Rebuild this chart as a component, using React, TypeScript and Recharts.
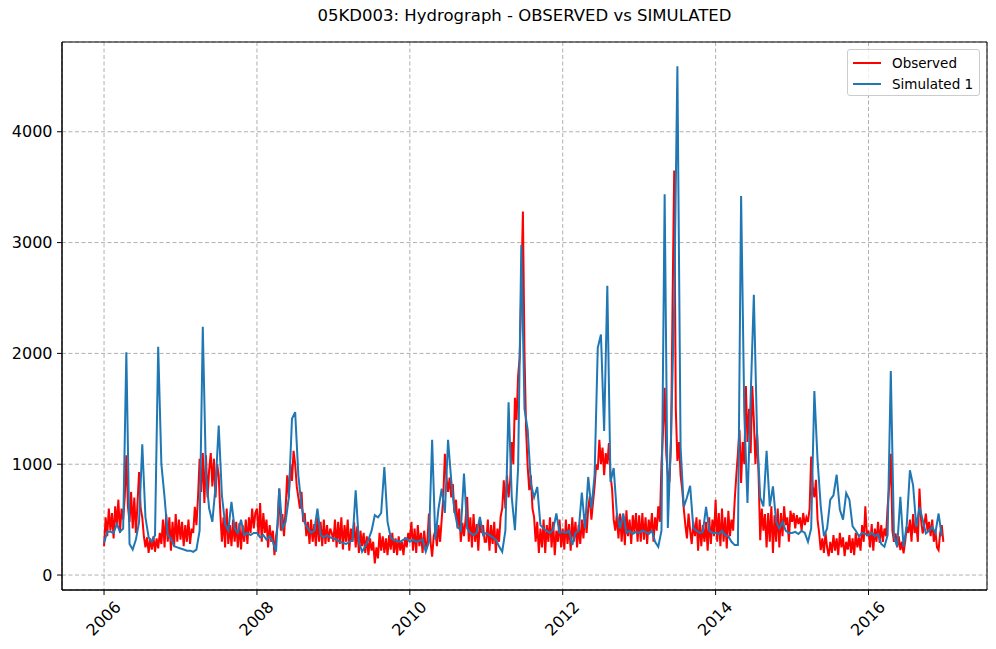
import { LineChart, Line, XAxis, YAxis, CartesianGrid, ReferenceArea } from 'recharts'

const YEARS = [2006, 2007, 2008, 2009, 2010, 2011, 2012, 2013, 2014, 2015, 2016]

// observed flows (m3/s), roughly weekly, 48 per year
const obs2006 = [260, 520, 350, 600, 400, 560, 330, 620, 450, 680, 380, 600, 500, 700, 1080, 620, 480, 750, 420, 700, 380, 640, 930, 600, 520, 350, 250, 340, 200, 330, 230, 350, 210, 330, 240, 380, 280, 500, 250, 550, 300, 520, 220, 480, 260, 550, 300, 500]
const obs2007 = [320, 480, 260, 450, 300, 500, 280, 420, 380, 615, 450, 700, 1050, 750, 1100, 650, 1080, 700, 950, 1100, 800, 1050, 700, 1000, 900, 560, 300, 520, 250, 600, 280, 450, 260, 500, 300, 480, 250, 470, 230, 450, 300, 500, 280, 520, 380, 600, 420, 560]
const obs2008 = [600, 350, 650, 300, 560, 380, 500, 250, 450, 300, 400, 180, 350, 450, 780, 400, 550, 350, 600, 900, 700, 1000, 850, 1120, 1000, 800, 700, 600, 750, 480, 560, 350, 480, 280, 500, 300, 460, 260, 520, 300, 480, 260, 500, 280, 450, 300, 420, 380]
const obs2009 = [300, 500, 250, 480, 280, 520, 230, 450, 300, 500, 220, 420, 300, 480, 250, 440, 200, 400, 260, 380, 200, 350, 180, 330, 220, 300, 105, 250, 150, 380, 220, 350, 200, 330, 180, 360, 230, 380, 200, 330, 180, 350, 220, 300, 180, 340, 250, 380]
const obs2010 = [320, 480, 220, 420, 200, 450, 260, 380, 200, 400, 250, 300, 555, 300, 165, 350, 400, 260, 450, 300, 500, 700, 1095, 880, 750, 880, 700, 820, 560, 680, 420, 600, 300, 470, 350, 500, 705, 300, 520, 250, 550, 300, 460, 220, 500, 380, 450, 300]
const obs2011 = [300, 500, 220, 450, 280, 480, 200, 420, 300, 525, 600, 855, 600, 900, 700, 850, 1200, 1000, 1600, 1400, 1800, 1965, 2600, 3280, 2000, 1310, 975, 765, 900, 600, 525, 300, 480, 200, 420, 250, 500, 200, 450, 300, 520, 250, 480, 180, 400, 300, 500, 250]
const obs2012 = [420, 230, 500, 280, 460, 220, 520, 300, 480, 250, 450, 280, 500, 330, 550, 380, 600, 710, 500, 650, 800, 1000, 950, 1220, 1000, 1150, 900, 1100, 1000, 1190, 900, 775, 500, 400, 550, 330, 555, 300, 540, 270, 585, 350, 500, 280, 540, 380, 560, 300]
const obs2013 = [540, 300, 560, 320, 520, 280, 500, 380, 560, 300, 520, 400, 620, 480, 1000, 1300, 1690, 1100, 900, 840, 1200, 2500, 3650, 1500, 1030, 1200, 900, 775, 600, 450, 330, 555, 400, 280, 480, 350, 520, 220, 500, 260, 450, 300, 480, 220, 520, 280, 500, 350]
const obs2014 = [680, 300, 560, 260, 600, 300, 520, 240, 580, 350, 500, 400, 680, 900, 1100, 1310, 830, 1200, 1000, 1705, 1200, 1500, 1100, 1705, 1400, 1000, 1285, 890, 315, 600, 400, 550, 250, 560, 300, 620, 200, 540, 300, 600, 250, 560, 350, 620, 450, 520, 300, 580]
const obs2015 = [480, 560, 420, 540, 460, 520, 400, 560, 450, 520, 480, 600, 1070, 800, 700, 860, 500, 380, 225, 330, 200, 380, 250, 170, 300, 200, 360, 220, 330, 180, 380, 250, 340, 170, 300, 230, 360, 200, 330, 180, 380, 250, 340, 220, 450, 300, 620, 350]
const obs2016 = [400, 250, 460, 220, 420, 300, 480, 290, 450, 300, 420, 350, 615, 800, 1095, 400, 300, 375, 250, 350, 225, 300, 195, 300, 435, 380, 500, 300, 550, 380, 450, 300, 780, 500, 375, 450, 555, 400, 480, 350, 500, 300, 400, 250, 225, 380, 450, 300]

// simulated flows (m3/s), half-monthly, 24 per year
const sim2006 = [290, 390, 390, 380, 460, 390, 420, 2010, 280, 230, 320, 480, 1180, 520, 340, 300, 360, 2060, 1000, 700, 360, 330, 260, 250]
const sim2007 = [240, 230, 220, 220, 210, 230, 400, 2240, 900, 600, 480, 800, 1350, 720, 460, 400, 660, 420, 380, 500, 360, 380, 360, 380]
const sim2008 = [380, 340, 360, 320, 350, 300, 210, 780, 420, 480, 700, 1410, 1470, 900, 620, 470, 420, 380, 400, 600, 360, 340, 360, 340]
const sim2009 = [330, 320, 300, 290, 280, 300, 310, 765, 300, 210, 260, 320, 400, 540, 520, 560, 975, 480, 340, 315, 310, 300, 320, 330]
const sim2010 = [300, 320, 300, 310, 320, 210, 300, 1220, 320, 600, 780, 560, 1220, 855, 585, 435, 400, 915, 420, 380, 360, 380, 525, 360]
const sim2011 = [380, 360, 340, 320, 260, 210, 400, 1560, 700, 405, 975, 2980, 1500, 1310, 825, 700, 795, 450, 420, 400, 380, 410, 555, 380]
const sim2012 = [390, 380, 400, 270, 380, 400, 745, 420, 885, 600, 900, 2050, 2170, 1300, 2610, 840, 965, 555, 420, 555, 380, 400, 370, 390]
const sim2013 = [380, 400, 390, 370, 400, 300, 255, 400, 3435, 425, 1250, 2450, 4590, 1155, 615, 700, 805, 425, 400, 380, 390, 615, 400, 380]
const sim2014 = [380, 370, 400, 360, 350, 300, 270, 270, 3420, 1465, 650, 1600, 2530, 1285, 700, 620, 1120, 620, 800, 480, 420, 480, 400, 380]
const sim2015 = [380, 390, 370, 400, 380, 300, 420, 1660, 1040, 620, 350, 420, 680, 720, 905, 590, 500, 740, 680, 440, 400, 350, 380, 370]
const sim2016 = [360, 380, 350, 370, 280, 255, 360, 1840, 345, 255, 705, 255, 450, 945, 810, 435, 615, 500, 375, 400, 435, 380, 555, 350]

const OBSERVED = [obs2006, obs2007, obs2008, obs2009, obs2010, obs2011, obs2012, obs2013, obs2014, obs2015, obs2016]
const SIMULATED = [sim2006, sim2007, sim2008, sim2009, sim2010, sim2011, sim2012, sim2013, sim2014, sim2015, sim2016]

const X_TICKS = [2006, 2008, 2010, 2012, 2014, 2016]
const Y_TICKS = [0, 1000, 2000, 3000, 4000]

const obsRows = YEARS.flatMap((year, k) => OBSERVED[k].map((v, i) => ({ t: year + i / 48, obs: v })))
const simRows = YEARS.flatMap((year, k) => SIMULATED[k].map((v, i) => ({ t: year + i / 24, sim: v })))

const FONT = '"DejaVu Sans", sans-serif'

function YearTick({ x, y, payload }: any) {
  return (
    <g transform={`translate(${x - 0.5},${y + 21.5})`}>
      <text
        x={0}
        y={0}
        transform="rotate(-45)"
        textAnchor="middle"
        dominantBaseline="central"
        fontSize={16}
        fontFamily={FONT}
        fill="#000"
      >
        {payload.value}
      </text>
    </g>
  )
}

function LegendBox() {
  const row = (color: string, label: string) => (
    <div style={{ display: 'flex', alignItems: 'center', height: 21 }}>
      <div style={{ width: 28, height: 2, background: color, marginRight: 11 }} />
      <span>{label}</span>
    </div>
  )
  return (
    <div
      style={{
        position: 'absolute',
        left: 847,
        top: 49,
        width: 133,
        height: 47,
        boxSizing: 'border-box',
        border: '1px solid #cccccc',
        borderRadius: 3,
        background: 'rgba(255,255,255,0.8)',
        padding: '2px 0 0 5px',
        fontFamily: FONT,
        fontSize: 13.5,
        color: '#000',
      }}
    >
      {row('#ff0000', 'Observed')}
      {row('#1f77b4', 'Simulated 1')}
    </div>
  )
}

export default function App() {
  return (
    <div style={{ position: 'absolute', left: 0, top: 0, width: 996, height: 649, background: '#fff' }}>
      <div
        style={{
          position: 'absolute',
          left: 62,
          width: 925,
          top: 6,
          textAlign: 'center',
          fontFamily: FONT,
          fontSize: 16.5,
          lineHeight: '20px',
          color: '#000',
        }}
      >
        05KD003: Hydrograph - OBSERVED vs SIMULATED
      </div>
      <LineChart width={996} height={649} margin={{ top: 42, right: 9, bottom: 0, left: 0 }}>
        <CartesianGrid stroke="#b0b0b0" strokeDasharray="4 2.5" />
        <XAxis
          dataKey="t"
          type="number"
          domain={[2005.45, 2017.55]}
          ticks={X_TICKS}
          allowDataOverflow
          height={59}
          tickSize={5}
          tickMargin={2}
          tickLine={{ stroke: '#000' }}
          axisLine={{ stroke: '#000' }}
          tick={<YearTick />}
        />
        <YAxis
          type="number"
          domain={[-135, 4810]}
          ticks={Y_TICKS}
          allowDataOverflow
          width={62}
          tickSize={5}
          tickMargin={4.5}
          tickLine={{ stroke: '#000' }}
          axisLine={{ stroke: '#000' }}
          tick={{ fill: '#000', fontSize: 16, fontFamily: FONT }}
        />
        <ReferenceArea x1={2005.45} x2={2017.55} y1={-135} y2={4810} fill="none" stroke="#000" strokeWidth={1} />
        <Line data={obsRows} dataKey="obs" stroke="#ff0000" strokeWidth={2} dot={false} isAnimationActive={false} />
        <Line data={simRows} dataKey="sim" stroke="#1f77b4" strokeWidth={2} dot={false} isAnimationActive={false} />
      </LineChart>
      <LegendBox />
    </div>
  )
}
